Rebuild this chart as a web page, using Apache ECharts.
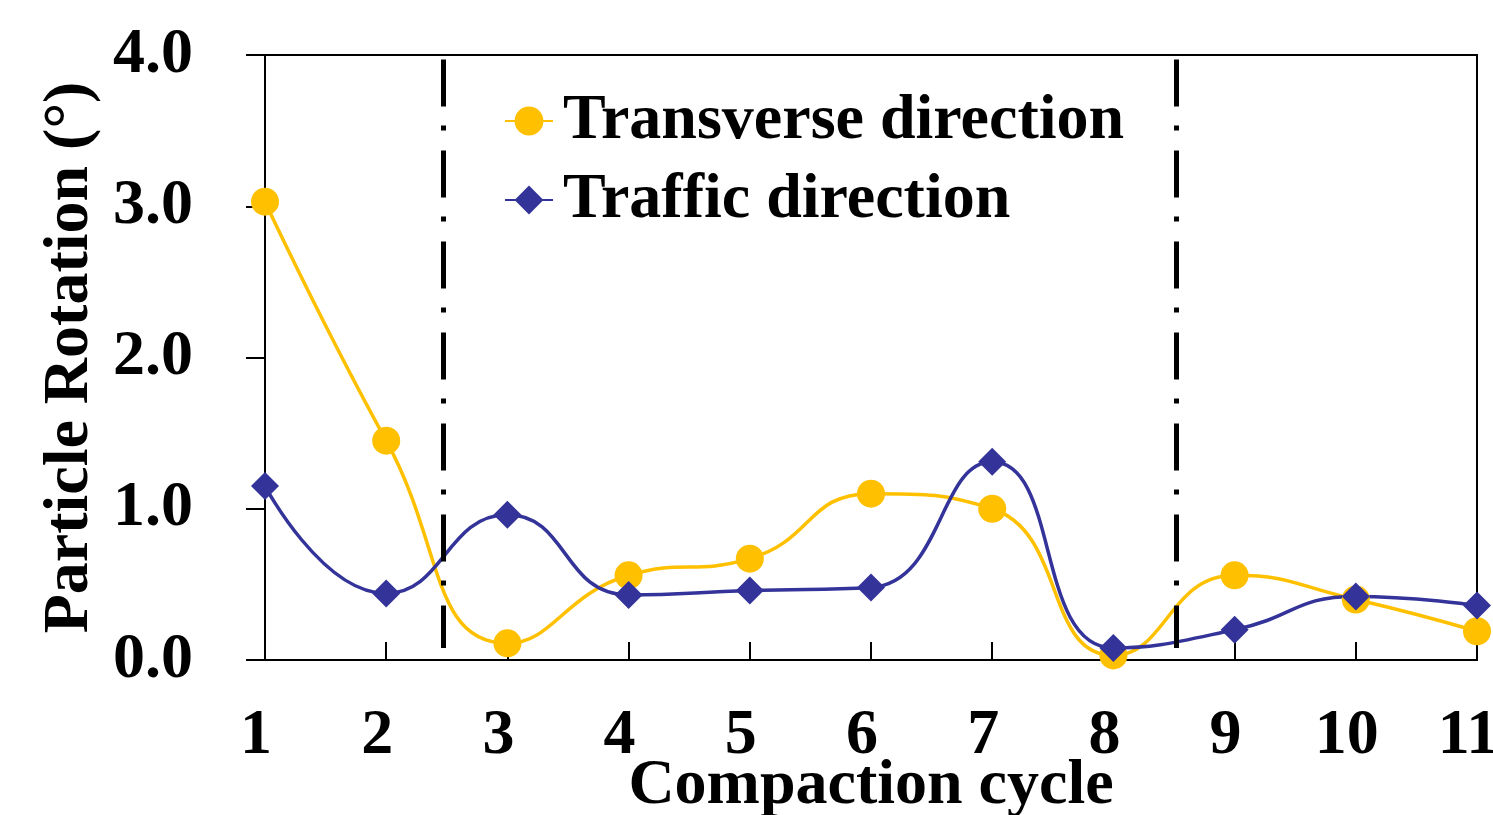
<!DOCTYPE html>
<html>
<head>
<meta charset="utf-8">
<script src="https://cdn.jsdelivr.net/npm/echarts@6/dist/echarts.min.js"></script>
<style>
html,body{margin:0;padding:0;background:#fff;}
#chart{width:1493px;height:815px;}
</style>
</head>
<body>
<div id="chart"></div>
<script>
const cycles = [1, 2, 3, 4, 5, 6, 7, 8, 9, 10, 11];
const transverse = [3.03, 1.45, 0.11, 0.56, 0.67, 1.10, 1.00, 0.03, 0.56, 0.40, 0.19];
const traffic = [1.15, 0.44, 0.96, 0.43, 0.46, 0.48, 1.31, 0.08, 0.20, 0.42, 0.36];
const dividers = [2.47, 8.52];
const yTicks = [0, 1, 2, 3, 4];

const FONT = "'Liberation Serif', 'Times New Roman', serif";
const FS = 64;
const chart = echarts.init(document.getElementById('chart'));

const pairs = arr => cycles.map((c, i) => [c, arr[i]]);

chart.setOption({
  animation: false,
  backgroundColor: '#fff',
  grid: {
    left: 265, right: 16, top: 55, bottom: 155,
    outerBoundsMode: 'none',
    containLabel: false,
    show: true, borderColor: '#000', borderWidth: 2, backgroundColor: 'transparent'
  },
  legend: {
    orient: 'vertical',
    left: 499, top: 84,
    itemGap: 15,
    itemWidth: 48, itemHeight: 36,
    textStyle: { fontFamily: FONT, fontWeight: 'bold', fontSize: FS, color: '#000', padding: [0, 0, 0, 5] },
    data: ['Transverse direction', 'Traffic direction']
  },
  xAxis: {
    type: 'value',
    min: cycles[0], max: cycles[cycles.length - 1], interval: 1,
    name: 'Compaction cycle',
    nameLocation: 'middle',
    nameGap: 94,
    nameMoveOverlap: false,
    nameTextStyle: { fontFamily: FONT, fontWeight: 'bold', fontSize: FS, color: '#000' },
    axisLine: { lineStyle: { color: '#000', width: 2 } },
    axisTick: { inside: true, length: 18, lineStyle: { color: '#000', width: 2 } },
    axisLabel: {
      fontFamily: FONT, fontWeight: 'bold', fontSize: FS, color: '#000', margin: 44,
      padding: [0, 18, 0, 0],
      formatter: v => String(v)
    },
    splitLine: { show: false }
  },
  yAxis: {
    type: 'value',
    min: yTicks[0], max: yTicks[yTicks.length - 1], interval: 1,
    name: 'Particle Rotation (°)',
    nameLocation: 'middle',
    nameGap: 162,
    nameTextStyle: { fontFamily: FONT, fontWeight: 'bold', fontSize: FS, color: '#000' },
    axisLine: { show: true, lineStyle: { color: '#000', width: 2 } },
    axisTick: { show: true, inside: false, length: 19, lineStyle: { color: '#000', width: 2 } },
    axisLabel: {
      fontFamily: FONT, fontWeight: 'bold', fontSize: FS, color: '#000', margin: 72,
      formatter: v => v.toFixed(1)
    },
    splitLine: { show: false }
  },
  series: [
    {
      name: 'Transverse direction',
      type: 'line',
      smooth: 0.5,
      data: pairs(transverse),
      symbol: 'circle',
      symbolSize: 28,
      itemStyle: { color: '#FFC000' },
      lineStyle: { color: '#FFC000', width: 3.5 },
      emphasis: { disabled: true },
      markLine: {
        silent: true,
        symbol: ['none', 'none'],
        label: { show: false },
        lineStyle: { color: '#000', width: 5, type: [47, 19, 5, 20] },
        data: dividers.map(d => [{ coord: [d, 3.97] }, { coord: [d, 0.08] }])
      }
    },
    {
      name: 'Traffic direction',
      type: 'line',
      smooth: 0.5,
      data: pairs(traffic),
      symbol: 'diamond',
      symbolSize: 28,
      itemStyle: { color: '#333399' },
      lineStyle: { color: '#333399', width: 3.5 },
      emphasis: { disabled: true }
    }
  ]
});
</script>
</body>
</html>
